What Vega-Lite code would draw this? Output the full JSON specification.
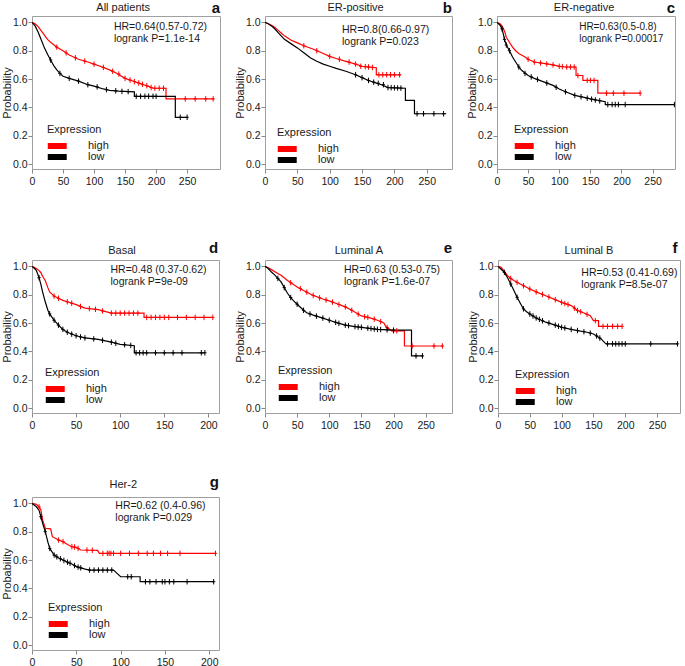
{
"$schema": "https://vega.github.io/schema/vega-lite/v6.json",
"background": "white",
"padding": {"left": 0, "top": 0, "right": 0, "bottom": 0},
"config": {
 "font": "Liberation Sans",
 "view": {"stroke": "#a0a0a0"},
 "axis": {"grid": false, "domain": false, "tickColor": "#888", "tickSize": 4, "labelFontSize": 10.5, "labelColor": "#1a1a1a", "titleFontSize": 11, "titleFontWeight": "normal", "titleColor": "#1a1a1a", "labelOverlap": false, "labelFlush": false, "tickCount": 12},
 "axisX": {"labelPadding": 3},
 "axisY": {"labelPadding": 1, "titlePadding": 0},
 "legend": {"padding": 0, "titleFontSize": 11, "titleFontWeight": "normal", "titleColor": "#1a1a1a", "labelFontSize": 11, "labelColor": "#1a1a1a", "symbolType": "M-1,-0.63H3V0.63H-1Z", "symbolSize": 90, "symbolStrokeWidth": 0, "symbolOpacity": 1, "rowPadding": -6, "labelOffset": 30, "titlePadding": 5.5}
},
"datasets": {
 "info": [
  {"panel":"a","name":"All patients","letter":"a","stats":"HR=0.64(0.57-0.72)\nlogrank P=1.1e-14"},
  {"panel":"b","name":"ER-positive","letter":"b","stats":"HR=0.8(0.66-0.97)\nlogrank P=0.023"},
  {"panel":"c","name":"ER-negative","letter":"c","stats":"HR=0.63(0.5-0.8)\nlogrank P=0.00017"},
  {"panel":"d","name":"Basal","letter":"d","stats":"HR=0.48 (0.37-0.62)\nlogrank P=9e-09"},
  {"panel":"e","name":"Luminal A","letter":"e","stats":"HR=0.63 (0.53-0.75)\nlogrank P=1.6e-07"},
  {"panel":"f","name":"Luminal B","letter":"f","stats":"HR=0.53 (0.41-0.69)\nlogrank P=8.5e-07"},
  {"panel":"g","name":"Her-2","letter":"g","stats":"HR=0.62 (0.4-0.96)\nlogrank P=0.029"}
 ],
 "curves": [
  {"panel":"a","grp":"high","t":0,"p":1},{"panel":"a","grp":"high","t":5,"p":0.99},{"panel":"a","grp":"high","t":10,"p":0.97},{"panel":"a","grp":"high","t":15,"p":0.94},{"panel":"a","grp":"high","t":20,"p":0.91},{"panel":"a","grp":"high","t":25,"p":0.88},{"panel":"a","grp":"high","t":30,"p":0.86},{"panel":"a","grp":"high","t":40,"p":0.825},{"panel":"a","grp":"high","t":50,"p":0.8},{"panel":"a","grp":"high","t":60,"p":0.77},{"panel":"a","grp":"high","t":75,"p":0.74},{"panel":"a","grp":"high","t":90,"p":0.72},{"panel":"a","grp":"high","t":100,"p":0.705},{"panel":"a","grp":"high","t":110,"p":0.69},{"panel":"a","grp":"high","t":125,"p":0.665},{"panel":"a","grp":"high","t":135,"p":0.645},{"panel":"a","grp":"high","t":150,"p":0.605},{"panel":"a","grp":"high","t":160,"p":0.59},{"panel":"a","grp":"high","t":170,"p":0.575},{"panel":"a","grp":"high","t":180,"p":0.56},{"panel":"a","grp":"high","t":190,"p":0.545},{"panel":"a","grp":"high","t":195,"p":0.535},{"panel":"a","grp":"high","t":216,"p":0.535},{"panel":"a","grp":"high","t":216,"p":0.46},{"panel":"a","grp":"high","t":293,"p":0.46},
  {"panel":"a","grp":"low","t":0,"p":1},{"panel":"a","grp":"low","t":5,"p":0.975},{"panel":"a","grp":"low","t":10,"p":0.93},{"panel":"a","grp":"low","t":15,"p":0.875},{"panel":"a","grp":"low","t":20,"p":0.82},{"panel":"a","grp":"low","t":25,"p":0.775},{"panel":"a","grp":"low","t":30,"p":0.735},{"panel":"a","grp":"low","t":35,"p":0.695},{"panel":"a","grp":"low","t":40,"p":0.665},{"panel":"a","grp":"low","t":45,"p":0.64},{"panel":"a","grp":"low","t":50,"p":0.62},{"panel":"a","grp":"low","t":60,"p":0.605},{"panel":"a","grp":"low","t":75,"p":0.585},{"panel":"a","grp":"low","t":90,"p":0.56},{"panel":"a","grp":"low","t":100,"p":0.55},{"panel":"a","grp":"low","t":115,"p":0.53},{"panel":"a","grp":"low","t":125,"p":0.52},{"panel":"a","grp":"low","t":140,"p":0.515},{"panel":"a","grp":"low","t":165,"p":0.51},{"panel":"a","grp":"low","t":165,"p":0.478},{"panel":"a","grp":"low","t":231,"p":0.478},{"panel":"a","grp":"low","t":231,"p":0.33},{"panel":"a","grp":"low","t":250,"p":0.33},
  {"panel":"b","grp":"high","t":0,"p":1},{"panel":"b","grp":"high","t":5,"p":0.99},{"panel":"b","grp":"high","t":10,"p":0.98},{"panel":"b","grp":"high","t":15,"p":0.965},{"panel":"b","grp":"high","t":20,"p":0.945},{"panel":"b","grp":"high","t":25,"p":0.925},{"panel":"b","grp":"high","t":30,"p":0.905},{"panel":"b","grp":"high","t":40,"p":0.875},{"panel":"b","grp":"high","t":50,"p":0.855},{"panel":"b","grp":"high","t":60,"p":0.835},{"panel":"b","grp":"high","t":75,"p":0.81},{"panel":"b","grp":"high","t":90,"p":0.78},{"panel":"b","grp":"high","t":100,"p":0.76},{"panel":"b","grp":"high","t":110,"p":0.745},{"panel":"b","grp":"high","t":125,"p":0.725},{"panel":"b","grp":"high","t":140,"p":0.705},{"panel":"b","grp":"high","t":150,"p":0.69},{"panel":"b","grp":"high","t":172,"p":0.68},{"panel":"b","grp":"high","t":172,"p":0.63},{"panel":"b","grp":"high","t":210,"p":0.63},
  {"panel":"b","grp":"low","t":0,"p":1},{"panel":"b","grp":"low","t":5,"p":0.99},{"panel":"b","grp":"low","t":10,"p":0.975},{"panel":"b","grp":"low","t":15,"p":0.955},{"panel":"b","grp":"low","t":20,"p":0.93},{"panel":"b","grp":"low","t":25,"p":0.905},{"panel":"b","grp":"low","t":30,"p":0.88},{"panel":"b","grp":"low","t":40,"p":0.85},{"panel":"b","grp":"low","t":50,"p":0.82},{"panel":"b","grp":"low","t":60,"p":0.785},{"panel":"b","grp":"low","t":70,"p":0.75},{"panel":"b","grp":"low","t":80,"p":0.725},{"panel":"b","grp":"low","t":90,"p":0.705},{"panel":"b","grp":"low","t":100,"p":0.69},{"panel":"b","grp":"low","t":110,"p":0.675},{"panel":"b","grp":"low","t":125,"p":0.655},{"panel":"b","grp":"low","t":140,"p":0.63},{"panel":"b","grp":"low","t":150,"p":0.61},{"panel":"b","grp":"low","t":160,"p":0.59},{"panel":"b","grp":"low","t":170,"p":0.575},{"panel":"b","grp":"low","t":180,"p":0.56},{"panel":"b","grp":"low","t":190,"p":0.54},{"panel":"b","grp":"low","t":217,"p":0.535},{"panel":"b","grp":"low","t":217,"p":0.45},{"panel":"b","grp":"low","t":231,"p":0.45},{"panel":"b","grp":"low","t":231,"p":0.355},{"panel":"b","grp":"low","t":280,"p":0.355},
  {"panel":"c","grp":"high","t":0,"p":1},{"panel":"c","grp":"high","t":5,"p":0.99},{"panel":"c","grp":"high","t":8,"p":0.975},{"panel":"c","grp":"high","t":12,"p":0.94},{"panel":"c","grp":"high","t":15,"p":0.895},{"panel":"c","grp":"high","t":20,"p":0.86},{"panel":"c","grp":"high","t":25,"p":0.825},{"panel":"c","grp":"high","t":30,"p":0.8},{"panel":"c","grp":"high","t":35,"p":0.78},{"panel":"c","grp":"high","t":45,"p":0.755},{"panel":"c","grp":"high","t":50,"p":0.74},{"panel":"c","grp":"high","t":60,"p":0.72},{"panel":"c","grp":"high","t":75,"p":0.71},{"panel":"c","grp":"high","t":90,"p":0.7},{"panel":"c","grp":"high","t":100,"p":0.69},{"panel":"c","grp":"high","t":110,"p":0.685},{"panel":"c","grp":"high","t":127,"p":0.685},{"panel":"c","grp":"high","t":127,"p":0.625},{"panel":"c","grp":"high","t":138,"p":0.625},{"panel":"c","grp":"high","t":138,"p":0.59},{"panel":"c","grp":"high","t":162,"p":0.59},{"panel":"c","grp":"high","t":162,"p":0.5},{"panel":"c","grp":"high","t":230,"p":0.5},
  {"panel":"c","grp":"low","t":0,"p":1},{"panel":"c","grp":"low","t":5,"p":0.98},{"panel":"c","grp":"low","t":8,"p":0.955},{"panel":"c","grp":"low","t":10,"p":0.92},{"panel":"c","grp":"low","t":12,"p":0.88},{"panel":"c","grp":"low","t":15,"p":0.84},{"panel":"c","grp":"low","t":20,"p":0.8},{"panel":"c","grp":"low","t":25,"p":0.755},{"panel":"c","grp":"low","t":30,"p":0.72},{"panel":"c","grp":"low","t":35,"p":0.685},{"panel":"c","grp":"low","t":40,"p":0.66},{"panel":"c","grp":"low","t":50,"p":0.625},{"panel":"c","grp":"low","t":60,"p":0.605},{"panel":"c","grp":"low","t":75,"p":0.58},{"panel":"c","grp":"low","t":90,"p":0.555},{"panel":"c","grp":"low","t":100,"p":0.53},{"panel":"c","grp":"low","t":110,"p":0.51},{"panel":"c","grp":"low","t":125,"p":0.485},{"panel":"c","grp":"low","t":140,"p":0.47},{"panel":"c","grp":"low","t":150,"p":0.46},{"panel":"c","grp":"low","t":174,"p":0.44},{"panel":"c","grp":"low","t":174,"p":0.42},{"panel":"c","grp":"low","t":285,"p":0.42},
  {"panel":"d","grp":"high","t":0,"p":1},{"panel":"d","grp":"high","t":5,"p":0.985},{"panel":"d","grp":"high","t":8,"p":0.97},{"panel":"d","grp":"high","t":10,"p":0.957},{"panel":"d","grp":"high","t":12,"p":0.93},{"panel":"d","grp":"high","t":15,"p":0.9},{"panel":"d","grp":"high","t":18,"p":0.85},{"panel":"d","grp":"high","t":20,"p":0.82},{"panel":"d","grp":"high","t":25,"p":0.79},{"panel":"d","grp":"high","t":30,"p":0.775},{"panel":"d","grp":"high","t":35,"p":0.76},{"panel":"d","grp":"high","t":40,"p":0.75},{"panel":"d","grp":"high","t":50,"p":0.73},{"panel":"d","grp":"high","t":60,"p":0.705},{"panel":"d","grp":"high","t":75,"p":0.695},{"panel":"d","grp":"high","t":90,"p":0.67},{"panel":"d","grp":"high","t":127,"p":0.67},{"panel":"d","grp":"high","t":127,"p":0.64},{"panel":"d","grp":"high","t":205,"p":0.64},
  {"panel":"d","grp":"low","t":0,"p":1},{"panel":"d","grp":"low","t":3,"p":0.985},{"panel":"d","grp":"low","t":5,"p":0.97},{"panel":"d","grp":"low","t":8,"p":0.92},{"panel":"d","grp":"low","t":10,"p":0.875},{"panel":"d","grp":"low","t":12,"p":0.82},{"panel":"d","grp":"low","t":15,"p":0.75},{"panel":"d","grp":"low","t":18,"p":0.69},{"panel":"d","grp":"low","t":20,"p":0.665},{"panel":"d","grp":"low","t":25,"p":0.62},{"panel":"d","grp":"low","t":30,"p":0.585},{"panel":"d","grp":"low","t":35,"p":0.555},{"panel":"d","grp":"low","t":40,"p":0.535},{"panel":"d","grp":"low","t":50,"p":0.51},{"panel":"d","grp":"low","t":60,"p":0.495},{"panel":"d","grp":"low","t":75,"p":0.485},{"panel":"d","grp":"low","t":90,"p":0.465},{"panel":"d","grp":"low","t":100,"p":0.45},{"panel":"d","grp":"low","t":116,"p":0.44},{"panel":"d","grp":"low","t":116,"p":0.39},{"panel":"d","grp":"low","t":196,"p":0.39},
  {"panel":"e","grp":"high","t":0,"p":1},{"panel":"e","grp":"high","t":5,"p":0.99},{"panel":"e","grp":"high","t":10,"p":0.977},{"panel":"e","grp":"high","t":20,"p":0.95},{"panel":"e","grp":"high","t":25,"p":0.937},{"panel":"e","grp":"high","t":35,"p":0.9},{"panel":"e","grp":"high","t":50,"p":0.855},{"panel":"e","grp":"high","t":60,"p":0.83},{"panel":"e","grp":"high","t":75,"p":0.795},{"panel":"e","grp":"high","t":90,"p":0.77},{"panel":"e","grp":"high","t":100,"p":0.756},{"panel":"e","grp":"high","t":110,"p":0.74},{"panel":"e","grp":"high","t":125,"p":0.714},{"panel":"e","grp":"high","t":135,"p":0.69},{"panel":"e","grp":"high","t":150,"p":0.65},{"panel":"e","grp":"high","t":165,"p":0.635},{"panel":"e","grp":"high","t":175,"p":0.62},{"panel":"e","grp":"high","t":185,"p":0.6},{"panel":"e","grp":"high","t":188,"p":0.575},{"panel":"e","grp":"high","t":197,"p":0.545},{"panel":"e","grp":"high","t":217,"p":0.545},{"panel":"e","grp":"high","t":217,"p":0.438},{"panel":"e","grp":"high","t":276,"p":0.438},
  {"panel":"e","grp":"low","t":0,"p":1},{"panel":"e","grp":"low","t":5,"p":0.985},{"panel":"e","grp":"low","t":10,"p":0.96},{"panel":"e","grp":"low","t":15,"p":0.94},{"panel":"e","grp":"low","t":20,"p":0.915},{"panel":"e","grp":"low","t":25,"p":0.89},{"panel":"e","grp":"low","t":30,"p":0.85},{"panel":"e","grp":"low","t":35,"p":0.81},{"panel":"e","grp":"low","t":40,"p":0.78},{"panel":"e","grp":"low","t":45,"p":0.755},{"panel":"e","grp":"low","t":50,"p":0.733},{"panel":"e","grp":"low","t":60,"p":0.69},{"panel":"e","grp":"low","t":65,"p":0.672},{"panel":"e","grp":"low","t":75,"p":0.656},{"panel":"e","grp":"low","t":90,"p":0.635},{"panel":"e","grp":"low","t":100,"p":0.62},{"panel":"e","grp":"low","t":110,"p":0.605},{"panel":"e","grp":"low","t":125,"p":0.585},{"panel":"e","grp":"low","t":140,"p":0.575},{"panel":"e","grp":"low","t":150,"p":0.57},{"panel":"e","grp":"low","t":175,"p":0.555},{"panel":"e","grp":"low","t":200,"p":0.55},{"panel":"e","grp":"low","t":228,"p":0.55},{"panel":"e","grp":"low","t":228,"p":0.368},{"panel":"e","grp":"low","t":245,"p":0.368},
  {"panel":"f","grp":"high","t":0,"p":1},{"panel":"f","grp":"high","t":5,"p":0.993},{"panel":"f","grp":"high","t":10,"p":0.965},{"panel":"f","grp":"high","t":15,"p":0.934},{"panel":"f","grp":"high","t":20,"p":0.915},{"panel":"f","grp":"high","t":25,"p":0.9},{"panel":"f","grp":"high","t":35,"p":0.875},{"panel":"f","grp":"high","t":50,"p":0.84},{"panel":"f","grp":"high","t":60,"p":0.82},{"panel":"f","grp":"high","t":75,"p":0.793},{"panel":"f","grp":"high","t":90,"p":0.765},{"panel":"f","grp":"high","t":100,"p":0.746},{"panel":"f","grp":"high","t":115,"p":0.723},{"panel":"f","grp":"high","t":125,"p":0.688},{"panel":"f","grp":"high","t":135,"p":0.671},{"panel":"f","grp":"high","t":145,"p":0.652},{"panel":"f","grp":"high","t":150,"p":0.617},{"panel":"f","grp":"high","t":158,"p":0.617},{"panel":"f","grp":"high","t":158,"p":0.577},{"panel":"f","grp":"high","t":195,"p":0.577},
  {"panel":"f","grp":"low","t":0,"p":1},{"panel":"f","grp":"low","t":5,"p":0.98},{"panel":"f","grp":"low","t":10,"p":0.958},{"panel":"f","grp":"low","t":15,"p":0.92},{"panel":"f","grp":"low","t":20,"p":0.876},{"panel":"f","grp":"low","t":25,"p":0.83},{"panel":"f","grp":"low","t":30,"p":0.782},{"panel":"f","grp":"low","t":35,"p":0.74},{"panel":"f","grp":"low","t":40,"p":0.7},{"panel":"f","grp":"low","t":45,"p":0.68},{"panel":"f","grp":"low","t":50,"p":0.664},{"panel":"f","grp":"low","t":60,"p":0.636},{"panel":"f","grp":"low","t":75,"p":0.606},{"panel":"f","grp":"low","t":90,"p":0.585},{"panel":"f","grp":"low","t":100,"p":0.57},{"panel":"f","grp":"low","t":115,"p":0.555},{"panel":"f","grp":"low","t":125,"p":0.547},{"panel":"f","grp":"low","t":140,"p":0.535},{"panel":"f","grp":"low","t":150,"p":0.523},{"panel":"f","grp":"low","t":158,"p":0.5},{"panel":"f","grp":"low","t":162,"p":0.488},{"panel":"f","grp":"low","t":168,"p":0.46},{"panel":"f","grp":"low","t":170,"p":0.453},{"panel":"f","grp":"low","t":282,"p":0.453},
  {"panel":"g","grp":"high","t":0,"p":1},{"panel":"g","grp":"high","t":5,"p":0.993},{"panel":"g","grp":"high","t":8,"p":0.975},{"panel":"g","grp":"high","t":10,"p":0.953},{"panel":"g","grp":"high","t":12,"p":0.882},{"panel":"g","grp":"high","t":15,"p":0.824},{"panel":"g","grp":"high","t":21,"p":0.82},{"panel":"g","grp":"high","t":23,"p":0.765},{"panel":"g","grp":"high","t":30,"p":0.741},{"panel":"g","grp":"high","t":35,"p":0.73},{"panel":"g","grp":"high","t":40,"p":0.71},{"panel":"g","grp":"high","t":45,"p":0.694},{"panel":"g","grp":"high","t":50,"p":0.69},{"panel":"g","grp":"high","t":55,"p":0.671},{"panel":"g","grp":"high","t":74,"p":0.668},{"panel":"g","grp":"high","t":76,"p":0.647},{"panel":"g","grp":"high","t":207,"p":0.647},
  {"panel":"g","grp":"low","t":0,"p":1},{"panel":"g","grp":"low","t":5,"p":0.976},{"panel":"g","grp":"low","t":8,"p":0.95},{"panel":"g","grp":"low","t":10,"p":0.906},{"panel":"g","grp":"low","t":12,"p":0.86},{"panel":"g","grp":"low","t":15,"p":0.8},{"panel":"g","grp":"low","t":18,"p":0.725},{"panel":"g","grp":"low","t":20,"p":0.682},{"panel":"g","grp":"low","t":25,"p":0.635},{"panel":"g","grp":"low","t":30,"p":0.615},{"panel":"g","grp":"low","t":35,"p":0.6},{"panel":"g","grp":"low","t":40,"p":0.585},{"panel":"g","grp":"low","t":45,"p":0.572},{"panel":"g","grp":"low","t":50,"p":0.553},{"panel":"g","grp":"low","t":60,"p":0.536},{"panel":"g","grp":"low","t":65,"p":0.529},{"panel":"g","grp":"low","t":92,"p":0.529},{"panel":"g","grp":"low","t":96,"p":0.506},{"panel":"g","grp":"low","t":100,"p":0.482},{"panel":"g","grp":"low","t":122,"p":0.482},{"panel":"g","grp":"low","t":122,"p":0.447},{"panel":"g","grp":"low","t":205,"p":0.447}
 ],
 "censors": [
  {"panel":"a","grp":"high","t":40,"p":0.825},{"panel":"a","grp":"high","t":55,"p":0.785},{"panel":"a","grp":"high","t":70,"p":0.75},{"panel":"a","grp":"high","t":85,"p":0.727},{"panel":"a","grp":"high","t":100,"p":0.705},{"panel":"a","grp":"high","t":115,"p":0.682},{"panel":"a","grp":"high","t":130,"p":0.655},{"panel":"a","grp":"high","t":140,"p":0.635},{"panel":"a","grp":"high","t":150,"p":0.605},{"panel":"a","grp":"high","t":158,"p":0.593},{"panel":"a","grp":"high","t":165,"p":0.582},{"panel":"a","grp":"high","t":172,"p":0.572},{"panel":"a","grp":"high","t":178,"p":0.563},{"panel":"a","grp":"high","t":185,"p":0.553},{"panel":"a","grp":"high","t":192,"p":0.54},{"panel":"a","grp":"high","t":198,"p":0.535},{"panel":"a","grp":"high","t":205,"p":0.535},{"panel":"a","grp":"high","t":212,"p":0.535},{"panel":"a","grp":"high","t":247,"p":0.46},{"panel":"a","grp":"high","t":263,"p":0.46},{"panel":"a","grp":"high","t":280,"p":0.46},{"panel":"a","grp":"high","t":292,"p":0.46},
  {"panel":"a","grp":"low","t":30,"p":0.735},{"panel":"a","grp":"low","t":45,"p":0.64},{"panel":"a","grp":"low","t":60,"p":0.605},{"panel":"a","grp":"low","t":75,"p":0.585},{"panel":"a","grp":"low","t":90,"p":0.56},{"panel":"a","grp":"low","t":105,"p":0.545},{"panel":"a","grp":"low","t":120,"p":0.525},{"panel":"a","grp":"low","t":135,"p":0.517},{"panel":"a","grp":"low","t":145,"p":0.513},{"panel":"a","grp":"low","t":155,"p":0.511},{"panel":"a","grp":"low","t":168,"p":0.478},{"panel":"a","grp":"low","t":175,"p":0.478},{"panel":"a","grp":"low","t":182,"p":0.478},{"panel":"a","grp":"low","t":188,"p":0.478},{"panel":"a","grp":"low","t":195,"p":0.478},{"panel":"a","grp":"low","t":200,"p":0.478},{"panel":"a","grp":"low","t":239,"p":0.33},{"panel":"a","grp":"low","t":250,"p":0.33},
  {"panel":"b","grp":"high","t":60,"p":0.835},{"panel":"b","grp":"high","t":80,"p":0.8},{"panel":"b","grp":"high","t":100,"p":0.76},{"panel":"b","grp":"high","t":115,"p":0.74},{"panel":"b","grp":"high","t":130,"p":0.72},{"panel":"b","grp":"high","t":140,"p":0.705},{"panel":"b","grp":"high","t":148,"p":0.69},{"panel":"b","grp":"high","t":155,"p":0.687},{"panel":"b","grp":"high","t":160,"p":0.685},{"panel":"b","grp":"high","t":166,"p":0.682},{"panel":"b","grp":"high","t":176,"p":0.63},{"panel":"b","grp":"high","t":182,"p":0.63},{"panel":"b","grp":"high","t":188,"p":0.63},{"panel":"b","grp":"high","t":194,"p":0.63},{"panel":"b","grp":"high","t":200,"p":0.63},{"panel":"b","grp":"high","t":208,"p":0.63},
  {"panel":"b","grp":"low","t":140,"p":0.63},{"panel":"b","grp":"low","t":150,"p":0.61},{"panel":"b","grp":"low","t":160,"p":0.59},{"panel":"b","grp":"low","t":168,"p":0.578},{"panel":"b","grp":"low","t":175,"p":0.57},{"panel":"b","grp":"low","t":183,"p":0.56},{"panel":"b","grp":"low","t":190,"p":0.54},{"panel":"b","grp":"low","t":195,"p":0.539},{"panel":"b","grp":"low","t":200,"p":0.538},{"panel":"b","grp":"low","t":205,"p":0.537},{"panel":"b","grp":"low","t":210,"p":0.536},{"panel":"b","grp":"low","t":235,"p":0.355},{"panel":"b","grp":"low","t":245,"p":0.355},{"panel":"b","grp":"low","t":261,"p":0.355},{"panel":"b","grp":"low","t":276,"p":0.355},
  {"panel":"c","grp":"high","t":50,"p":0.74},{"panel":"c","grp":"high","t":60,"p":0.72},{"panel":"c","grp":"high","t":70,"p":0.713},{"panel":"c","grp":"high","t":80,"p":0.707},{"panel":"c","grp":"high","t":90,"p":0.7},{"panel":"c","grp":"high","t":100,"p":0.69},{"panel":"c","grp":"high","t":105,"p":0.688},{"panel":"c","grp":"high","t":112,"p":0.685},{"panel":"c","grp":"high","t":118,"p":0.685},{"panel":"c","grp":"high","t":124,"p":0.685},{"panel":"c","grp":"high","t":130,"p":0.625},{"panel":"c","grp":"high","t":145,"p":0.59},{"panel":"c","grp":"high","t":150,"p":0.59},{"panel":"c","grp":"high","t":156,"p":0.59},{"panel":"c","grp":"high","t":176,"p":0.5},{"panel":"c","grp":"high","t":187,"p":0.5},{"panel":"c","grp":"high","t":204,"p":0.5},{"panel":"c","grp":"high","t":230,"p":0.5},
  {"panel":"c","grp":"low","t":8,"p":0.955},{"panel":"c","grp":"low","t":12,"p":0.88},{"panel":"c","grp":"low","t":15,"p":0.84},{"panel":"c","grp":"low","t":20,"p":0.8},{"panel":"c","grp":"low","t":35,"p":0.685},{"panel":"c","grp":"low","t":45,"p":0.64},{"panel":"c","grp":"low","t":55,"p":0.615},{"panel":"c","grp":"low","t":65,"p":0.597},{"panel":"c","grp":"low","t":80,"p":0.572},{"panel":"c","grp":"low","t":95,"p":0.542},{"panel":"c","grp":"low","t":110,"p":0.51},{"panel":"c","grp":"low","t":125,"p":0.485},{"panel":"c","grp":"low","t":135,"p":0.475},{"panel":"c","grp":"low","t":145,"p":0.465},{"panel":"c","grp":"low","t":152,"p":0.458},{"panel":"c","grp":"low","t":158,"p":0.452},{"panel":"c","grp":"low","t":165,"p":0.446},{"panel":"c","grp":"low","t":178,"p":0.42},{"panel":"c","grp":"low","t":185,"p":0.42},{"panel":"c","grp":"low","t":190,"p":0.42},{"panel":"c","grp":"low","t":195,"p":0.42},{"panel":"c","grp":"low","t":206,"p":0.42},{"panel":"c","grp":"low","t":285,"p":0.42},
  {"panel":"d","grp":"high","t":25,"p":0.79},{"panel":"d","grp":"high","t":30,"p":0.775},{"panel":"d","grp":"high","t":40,"p":0.75},{"panel":"d","grp":"high","t":45,"p":0.74},{"panel":"d","grp":"high","t":55,"p":0.717},{"panel":"d","grp":"high","t":65,"p":0.702},{"panel":"d","grp":"high","t":72,"p":0.697},{"panel":"d","grp":"high","t":80,"p":0.685},{"panel":"d","grp":"high","t":90,"p":0.67},{"panel":"d","grp":"high","t":95,"p":0.67},{"panel":"d","grp":"high","t":100,"p":0.67},{"panel":"d","grp":"high","t":105,"p":0.67},{"panel":"d","grp":"high","t":110,"p":0.67},{"panel":"d","grp":"high","t":115,"p":0.67},{"panel":"d","grp":"high","t":120,"p":0.67},{"panel":"d","grp":"high","t":130,"p":0.64},{"panel":"d","grp":"high","t":135,"p":0.64},{"panel":"d","grp":"high","t":140,"p":0.64},{"panel":"d","grp":"high","t":145,"p":0.64},{"panel":"d","grp":"high","t":150,"p":0.64},{"panel":"d","grp":"high","t":155,"p":0.64},{"panel":"d","grp":"high","t":165,"p":0.64},{"panel":"d","grp":"high","t":175,"p":0.64},{"panel":"d","grp":"high","t":185,"p":0.64},{"panel":"d","grp":"high","t":195,"p":0.64},{"panel":"d","grp":"high","t":205,"p":0.64},
  {"panel":"d","grp":"low","t":8,"p":0.92},{"panel":"d","grp":"low","t":20,"p":0.665},{"panel":"d","grp":"low","t":25,"p":0.62},{"panel":"d","grp":"low","t":30,"p":0.585},{"panel":"d","grp":"low","t":35,"p":0.555},{"panel":"d","grp":"low","t":40,"p":0.535},{"panel":"d","grp":"low","t":45,"p":0.522},{"panel":"d","grp":"low","t":50,"p":0.51},{"panel":"d","grp":"low","t":55,"p":0.502},{"panel":"d","grp":"low","t":60,"p":0.495},{"panel":"d","grp":"low","t":70,"p":0.488},{"panel":"d","grp":"low","t":80,"p":0.478},{"panel":"d","grp":"low","t":90,"p":0.465},{"panel":"d","grp":"low","t":95,"p":0.457},{"panel":"d","grp":"low","t":105,"p":0.447},{"panel":"d","grp":"low","t":112,"p":0.442},{"panel":"d","grp":"low","t":118,"p":0.39},{"panel":"d","grp":"low","t":122,"p":0.39},{"panel":"d","grp":"low","t":126,"p":0.39},{"panel":"d","grp":"low","t":130,"p":0.39},{"panel":"d","grp":"low","t":140,"p":0.39},{"panel":"d","grp":"low","t":150,"p":0.39},{"panel":"d","grp":"low","t":160,"p":0.39},{"panel":"d","grp":"low","t":170,"p":0.39},{"panel":"d","grp":"low","t":192,"p":0.39},{"panel":"d","grp":"low","t":196,"p":0.39},
  {"panel":"e","grp":"high","t":40,"p":0.885},{"panel":"e","grp":"high","t":55,"p":0.843},{"panel":"e","grp":"high","t":65,"p":0.818},{"panel":"e","grp":"high","t":75,"p":0.795},{"panel":"e","grp":"high","t":85,"p":0.778},{"panel":"e","grp":"high","t":95,"p":0.763},{"panel":"e","grp":"high","t":105,"p":0.748},{"panel":"e","grp":"high","t":115,"p":0.731},{"panel":"e","grp":"high","t":125,"p":0.714},{"panel":"e","grp":"high","t":135,"p":0.69},{"panel":"e","grp":"high","t":145,"p":0.663},{"panel":"e","grp":"high","t":155,"p":0.645},{"panel":"e","grp":"high","t":160,"p":0.64},{"panel":"e","grp":"high","t":170,"p":0.628},{"panel":"e","grp":"high","t":180,"p":0.61},{"panel":"e","grp":"high","t":190,"p":0.568},{"panel":"e","grp":"high","t":200,"p":0.545},{"panel":"e","grp":"high","t":205,"p":0.545},{"panel":"e","grp":"high","t":229,"p":0.438},{"panel":"e","grp":"high","t":263,"p":0.438},{"panel":"e","grp":"high","t":276,"p":0.438},
  {"panel":"e","grp":"low","t":20,"p":0.915},{"panel":"e","grp":"low","t":30,"p":0.85},{"panel":"e","grp":"low","t":40,"p":0.78},{"panel":"e","grp":"low","t":50,"p":0.733},{"panel":"e","grp":"low","t":60,"p":0.69},{"panel":"e","grp":"low","t":70,"p":0.664},{"panel":"e","grp":"low","t":80,"p":0.649},{"panel":"e","grp":"low","t":90,"p":0.635},{"panel":"e","grp":"low","t":100,"p":0.62},{"panel":"e","grp":"low","t":110,"p":0.605},{"panel":"e","grp":"low","t":115,"p":0.598},{"panel":"e","grp":"low","t":125,"p":0.585},{"panel":"e","grp":"low","t":130,"p":0.582},{"panel":"e","grp":"low","t":140,"p":0.575},{"panel":"e","grp":"low","t":145,"p":0.572},{"panel":"e","grp":"low","t":150,"p":0.57},{"panel":"e","grp":"low","t":160,"p":0.564},{"panel":"e","grp":"low","t":165,"p":0.561},{"panel":"e","grp":"low","t":170,"p":0.558},{"panel":"e","grp":"low","t":175,"p":0.555},{"panel":"e","grp":"low","t":180,"p":0.554},{"panel":"e","grp":"low","t":190,"p":0.552},{"panel":"e","grp":"low","t":200,"p":0.55},{"panel":"e","grp":"low","t":235,"p":0.368},{"panel":"e","grp":"low","t":245,"p":0.368},
  {"panel":"f","grp":"high","t":20,"p":0.915},{"panel":"f","grp":"high","t":30,"p":0.887},{"panel":"f","grp":"high","t":40,"p":0.863},{"panel":"f","grp":"high","t":50,"p":0.84},{"panel":"f","grp":"high","t":60,"p":0.82},{"panel":"f","grp":"high","t":70,"p":0.802},{"panel":"f","grp":"high","t":80,"p":0.784},{"panel":"f","grp":"high","t":90,"p":0.765},{"panel":"f","grp":"high","t":100,"p":0.746},{"panel":"f","grp":"high","t":105,"p":0.738},{"panel":"f","grp":"high","t":110,"p":0.731},{"panel":"f","grp":"high","t":120,"p":0.705},{"panel":"f","grp":"high","t":125,"p":0.688},{"panel":"f","grp":"high","t":130,"p":0.68},{"panel":"f","grp":"high","t":140,"p":0.661},{"panel":"f","grp":"high","t":153,"p":0.617},{"panel":"f","grp":"high","t":165,"p":0.577},{"panel":"f","grp":"high","t":172,"p":0.577},{"panel":"f","grp":"high","t":180,"p":0.577},{"panel":"f","grp":"high","t":188,"p":0.577},{"panel":"f","grp":"high","t":195,"p":0.577},
  {"panel":"f","grp":"low","t":10,"p":0.958},{"panel":"f","grp":"low","t":20,"p":0.876},{"panel":"f","grp":"low","t":30,"p":0.782},{"panel":"f","grp":"low","t":40,"p":0.7},{"panel":"f","grp":"low","t":50,"p":0.664},{"panel":"f","grp":"low","t":55,"p":0.65},{"panel":"f","grp":"low","t":60,"p":0.636},{"panel":"f","grp":"low","t":65,"p":0.626},{"panel":"f","grp":"low","t":70,"p":0.616},{"panel":"f","grp":"low","t":80,"p":0.6},{"panel":"f","grp":"low","t":90,"p":0.585},{"panel":"f","grp":"low","t":95,"p":0.577},{"panel":"f","grp":"low","t":100,"p":0.57},{"panel":"f","grp":"low","t":105,"p":0.565},{"panel":"f","grp":"low","t":115,"p":0.555},{"panel":"f","grp":"low","t":125,"p":0.547},{"panel":"f","grp":"low","t":135,"p":0.539},{"panel":"f","grp":"low","t":145,"p":0.529},{"panel":"f","grp":"low","t":155,"p":0.509},{"panel":"f","grp":"low","t":160,"p":0.494},{"panel":"f","grp":"low","t":172,"p":0.453},{"panel":"f","grp":"low","t":180,"p":0.453},{"panel":"f","grp":"low","t":185,"p":0.453},{"panel":"f","grp":"low","t":190,"p":0.453},{"panel":"f","grp":"low","t":195,"p":0.453},{"panel":"f","grp":"low","t":200,"p":0.453},{"panel":"f","grp":"low","t":240,"p":0.453},{"panel":"f","grp":"low","t":282,"p":0.453},
  {"panel":"g","grp":"high","t":8,"p":0.975},{"panel":"g","grp":"high","t":30,"p":0.741},{"panel":"g","grp":"high","t":35,"p":0.73},{"panel":"g","grp":"high","t":45,"p":0.694},{"panel":"g","grp":"high","t":48,"p":0.692},{"panel":"g","grp":"high","t":52,"p":0.682},{"panel":"g","grp":"high","t":62,"p":0.67},{"panel":"g","grp":"high","t":68,"p":0.669},{"panel":"g","grp":"high","t":80,"p":0.647},{"panel":"g","grp":"high","t":85,"p":0.647},{"panel":"g","grp":"high","t":87,"p":0.647},{"panel":"g","grp":"high","t":89,"p":0.647},{"panel":"g","grp":"high","t":92,"p":0.647},{"panel":"g","grp":"high","t":100,"p":0.647},{"panel":"g","grp":"high","t":110,"p":0.647},{"panel":"g","grp":"high","t":120,"p":0.647},{"panel":"g","grp":"high","t":130,"p":0.647},{"panel":"g","grp":"high","t":137,"p":0.647},{"panel":"g","grp":"high","t":145,"p":0.647},{"panel":"g","grp":"high","t":153,"p":0.647},{"panel":"g","grp":"high","t":167,"p":0.647},{"panel":"g","grp":"high","t":207,"p":0.647},
  {"panel":"g","grp":"low","t":10,"p":0.906},{"panel":"g","grp":"low","t":15,"p":0.8},{"panel":"g","grp":"low","t":20,"p":0.682},{"panel":"g","grp":"low","t":25,"p":0.635},{"panel":"g","grp":"low","t":28,"p":0.623},{"panel":"g","grp":"low","t":32,"p":0.609},{"panel":"g","grp":"low","t":36,"p":0.597},{"panel":"g","grp":"low","t":40,"p":0.585},{"panel":"g","grp":"low","t":43,"p":0.577},{"panel":"g","grp":"low","t":48,"p":0.561},{"panel":"g","grp":"low","t":52,"p":0.55},{"panel":"g","grp":"low","t":55,"p":0.545},{"panel":"g","grp":"low","t":65,"p":0.529},{"panel":"g","grp":"low","t":70,"p":0.529},{"panel":"g","grp":"low","t":75,"p":0.529},{"panel":"g","grp":"low","t":80,"p":0.529},{"panel":"g","grp":"low","t":85,"p":0.529},{"panel":"g","grp":"low","t":90,"p":0.529},{"panel":"g","grp":"low","t":108,"p":0.482},{"panel":"g","grp":"low","t":112,"p":0.482},{"panel":"g","grp":"low","t":128,"p":0.447},{"panel":"g","grp":"low","t":133,"p":0.447},{"panel":"g","grp":"low","t":140,"p":0.447},{"panel":"g","grp":"low","t":147,"p":0.447},{"panel":"g","grp":"low","t":150,"p":0.447},{"panel":"g","grp":"low","t":155,"p":0.447},{"panel":"g","grp":"low","t":160,"p":0.447},{"panel":"g","grp":"low","t":175,"p":0.447},{"panel":"g","grp":"low","t":205,"p":0.447}
 ]
},
"resolve": {"scale": {"x": "independent", "y": "independent"}, "legend": {"color": "independent"}},
"spacing": 53,
"vconcat": [
 {
  "resolve": {"scale": {"x": "independent", "y": "independent"}, "legend": {"color": "independent"}},
  "spacing": 12,
  "hconcat": [
   {"width": 188, "height": 153,
    "layer": [
     {"data": {"name": "curves"}, "transform": [{"filter": "datum.panel == 'a' && datum.t < 0"}], "mark": {"type": "point", "filled": true, "opacity": 1, "shape": "M-1,-0.63H3V0.63H-1Z"},
      "encoding": {"x": {"field": "t", "type": "quantitative", "scale": {"domain": [0, 303], "nice": false, "zero": false}, "axis": {"values": [0, 50, 100, 150, 200, 250], "title": null, "labelOverlap": false, "tickCount": 12}},
       "y": {"field": "p", "type": "quantitative", "scale": {"domain": [-0.035, 1.045], "nice": false, "zero": false}, "axis": {"values": [0, 0.2, 0.4, 0.6, 0.8, 1], "format": ".1f", "title": "Probability", "labelOverlap": false, "tickCount": 12}},
       "color": {"field": "grp", "type": "nominal", "scale": {"domain": ["high", "low"], "range": ["#ff0000", "#000000"]}, "legend": {"title": "Expression", "orient": "none", "legendX": 15, "legendY": 108}}}},
     {"data": {"name": "curves"}, "transform": [{"filter": "datum.panel == 'a'"}], "mark": {"type": "line", "clip": true, "strokeWidth": 1.2},
      "encoding": {"x": {"field": "t", "type": "quantitative"}, "y": {"field": "p", "type": "quantitative"}, "color": {"field": "grp", "type": "nominal", "legend": null},
       "order": [{"field": "t", "type": "quantitative"}, {"field": "p", "type": "quantitative", "sort": "descending"}]}},
     {"data": {"name": "censors"}, "transform": [{"filter": "datum.panel == 'a'"}], "mark": {"type": "point", "shape": "M0,-1V1M-0.6,0H0.6", "size": 30, "filled": false, "strokeWidth": 1, "opacity": 1, "clip": true},
      "encoding": {"x": {"field": "t", "type": "quantitative"}, "y": {"field": "p", "type": "quantitative"}, "color": {"field": "grp", "type": "nominal", "legend": null}}},
     {"data": {"name": "info"}, "transform": [{"filter": "datum.panel == 'a'"}], "mark": {"type": "text", "align": "left", "baseline": "top", "fontSize": 10.5, "lineBreak": "\n", "lineHeight": 12.5, "color": "#1a1a1a"},
      "encoding": {"x": {"datum": 132}, "y": {"datum": 1.005}, "text": {"field": "stats"}}},
     {"data": {"name": "info"}, "transform": [{"filter": "datum.panel == 'a'"}], "mark": {"type": "text", "align": "center", "baseline": "middle", "fontSize": 11, "color": "#1a1a1a"},
      "encoding": {"x": {"datum": 147}, "y": {"datum": 1.1}, "text": {"field": "name"}}},
     {"data": {"name": "info"}, "transform": [{"filter": "datum.panel == 'a'"}], "mark": {"type": "text", "align": "right", "baseline": "middle", "fontSize": 15, "fontWeight": "bold", "color": "#111"},
      "encoding": {"x": {"datum": 303}, "y": {"datum": 1.1}, "text": {"field": "letter"}}}
    ]},
   {"width": 187, "height": 153,
    "layer": [
     {"data": {"name": "curves"}, "transform": [{"filter": "datum.panel == 'b' && datum.t < 0"}], "mark": {"type": "point", "filled": true, "opacity": 1, "shape": "M-1,-0.63H3V0.63H-1Z"},
      "encoding": {"x": {"field": "t", "type": "quantitative", "scale": {"domain": [0, 289], "nice": false, "zero": false}, "axis": {"values": [0, 50, 100, 150, 200, 250], "title": null, "labelOverlap": false, "tickCount": 12}},
       "y": {"field": "p", "type": "quantitative", "scale": {"domain": [-0.035, 1.045], "nice": false, "zero": false}, "axis": {"values": [0, 0.2, 0.4, 0.6, 0.8, 1], "format": ".1f", "title": "Probability", "labelOverlap": false, "tickCount": 12}},
       "color": {"field": "grp", "type": "nominal", "scale": {"domain": ["high", "low"], "range": ["#ff0000", "#000000"]}, "legend": {"title": "Expression", "orient": "none", "legendX": 12, "legendY": 111}}}},
     {"data": {"name": "curves"}, "transform": [{"filter": "datum.panel == 'b'"}], "mark": {"type": "line", "clip": true, "strokeWidth": 1.2},
      "encoding": {"x": {"field": "t", "type": "quantitative"}, "y": {"field": "p", "type": "quantitative"}, "color": {"field": "grp", "type": "nominal", "legend": null},
       "order": [{"field": "t", "type": "quantitative"}, {"field": "p", "type": "quantitative", "sort": "descending"}]}},
     {"data": {"name": "censors"}, "transform": [{"filter": "datum.panel == 'b'"}], "mark": {"type": "point", "shape": "M0,-1V1M-0.6,0H0.6", "size": 30, "filled": false, "strokeWidth": 1, "opacity": 1, "clip": true},
      "encoding": {"x": {"field": "t", "type": "quantitative"}, "y": {"field": "p", "type": "quantitative"}, "color": {"field": "grp", "type": "nominal", "legend": null}}},
     {"data": {"name": "info"}, "transform": [{"filter": "datum.panel == 'b'"}], "mark": {"type": "text", "align": "left", "baseline": "top", "fontSize": 10.5, "lineBreak": "\n", "lineHeight": 12.5, "color": "#1a1a1a"},
      "encoding": {"x": {"datum": 119}, "y": {"datum": 0.984}, "text": {"field": "stats"}}},
     {"data": {"name": "info"}, "transform": [{"filter": "datum.panel == 'b'"}], "mark": {"type": "text", "align": "center", "baseline": "middle", "fontSize": 11, "color": "#1a1a1a"},
      "encoding": {"x": {"datum": 140}, "y": {"datum": 1.1}, "text": {"field": "name"}}},
     {"data": {"name": "info"}, "transform": [{"filter": "datum.panel == 'b'"}], "mark": {"type": "text", "align": "right", "baseline": "middle", "fontSize": 15, "fontWeight": "bold", "color": "#111"},
      "encoding": {"x": {"datum": 289}, "y": {"datum": 1.1}, "text": {"field": "letter"}}}
    ]},
   {"width": 178, "height": 153,
    "layer": [
     {"data": {"name": "curves"}, "transform": [{"filter": "datum.panel == 'c' && datum.t < 0"}], "mark": {"type": "point", "filled": true, "opacity": 1, "shape": "M-1,-0.63H3V0.63H-1Z"},
      "encoding": {"x": {"field": "t", "type": "quantitative", "scale": {"domain": [0, 286], "nice": false, "zero": false}, "axis": {"values": [0, 50, 100, 150, 200, 250], "title": null, "labelOverlap": false, "tickCount": 12}},
       "y": {"field": "p", "type": "quantitative", "scale": {"domain": [-0.035, 1.045], "nice": false, "zero": false}, "axis": {"values": [0, 0.2, 0.4, 0.6, 0.8, 1], "format": ".1f", "title": "Probability", "labelOverlap": false, "tickCount": 12}},
       "color": {"field": "grp", "type": "nominal", "scale": {"domain": ["high", "low"], "range": ["#ff0000", "#000000"]}, "legend": {"title": "Expression", "orient": "none", "legendX": 17, "legendY": 108}}}},
     {"data": {"name": "curves"}, "transform": [{"filter": "datum.panel == 'c'"}], "mark": {"type": "line", "clip": true, "strokeWidth": 1.2},
      "encoding": {"x": {"field": "t", "type": "quantitative"}, "y": {"field": "p", "type": "quantitative"}, "color": {"field": "grp", "type": "nominal", "legend": null},
       "order": [{"field": "t", "type": "quantitative"}, {"field": "p", "type": "quantitative", "sort": "descending"}]}},
     {"data": {"name": "censors"}, "transform": [{"filter": "datum.panel == 'c'"}], "mark": {"type": "point", "shape": "M0,-1V1M-0.6,0H0.6", "size": 30, "filled": false, "strokeWidth": 1, "opacity": 1, "clip": true},
      "encoding": {"x": {"field": "t", "type": "quantitative"}, "y": {"field": "p", "type": "quantitative"}, "color": {"field": "grp", "type": "nominal", "legend": null}}},
     {"data": {"name": "info"}, "transform": [{"filter": "datum.panel == 'c'"}], "mark": {"type": "text", "align": "left", "baseline": "top", "fontSize": 10, "lineBreak": "\n", "lineHeight": 12.5, "color": "#1a1a1a"},
      "encoding": {"x": {"datum": 132}, "y": {"datum": 1.005}, "text": {"field": "stats"}}},
     {"data": {"name": "info"}, "transform": [{"filter": "datum.panel == 'c'"}], "mark": {"type": "text", "align": "center", "baseline": "middle", "fontSize": 11, "color": "#1a1a1a"},
      "encoding": {"x": {"datum": 140}, "y": {"datum": 1.1}, "text": {"field": "name"}}},
     {"data": {"name": "info"}, "transform": [{"filter": "datum.panel == 'c'"}], "mark": {"type": "text", "align": "right", "baseline": "middle", "fontSize": 15, "fontWeight": "bold", "color": "#111"},
      "encoding": {"x": {"datum": 286}, "y": {"datum": 1.1}, "text": {"field": "letter"}}}
    ]}
  ]
 },
 {
  "resolve": {"scale": {"x": "independent", "y": "independent"}, "legend": {"color": "independent"}},
  "spacing": 43,
  "vconcat": [
   {
    "resolve": {"scale": {"x": "independent", "y": "independent"}, "legend": {"color": "independent"}},
    "spacing": 13,
    "hconcat": [
     {"width": 187, "height": 153,
      "layer": [
       {"data": {"name": "curves"}, "transform": [{"filter": "datum.panel == 'd' && datum.t < 0"}], "mark": {"type": "point", "filled": true, "opacity": 1, "shape": "M-1,-0.63H3V0.63H-1Z"},
        "encoding": {"x": {"field": "t", "type": "quantitative", "scale": {"domain": [0, 212], "nice": false, "zero": false}, "axis": {"values": [0, 50, 100, 150, 200], "title": null, "labelOverlap": false, "tickCount": 12}},
         "y": {"field": "p", "type": "quantitative", "scale": {"domain": [-0.035, 1.045], "nice": false, "zero": false}, "axis": {"values": [0, 0.2, 0.4, 0.6, 0.8, 1], "format": ".1f", "title": "Probability", "labelOverlap": false, "tickCount": 12}},
         "color": {"field": "grp", "type": "nominal", "scale": {"domain": ["high", "low"], "range": ["#ff0000", "#000000"]}, "legend": {"title": "Expression", "orient": "none", "legendX": 13, "legendY": 107}}}},
       {"data": {"name": "curves"}, "transform": [{"filter": "datum.panel == 'd'"}], "mark": {"type": "line", "clip": true, "strokeWidth": 1.2},
        "encoding": {"x": {"field": "t", "type": "quantitative"}, "y": {"field": "p", "type": "quantitative"}, "color": {"field": "grp", "type": "nominal", "legend": null},
         "order": [{"field": "t", "type": "quantitative"}, {"field": "p", "type": "quantitative", "sort": "descending"}]}},
       {"data": {"name": "censors"}, "transform": [{"filter": "datum.panel == 'd'"}], "mark": {"type": "point", "shape": "M0,-1V1M-0.6,0H0.6", "size": 30, "filled": false, "strokeWidth": 1, "opacity": 1, "clip": true},
        "encoding": {"x": {"field": "t", "type": "quantitative"}, "y": {"field": "p", "type": "quantitative"}, "color": {"field": "grp", "type": "nominal", "legend": null}}},
       {"data": {"name": "info"}, "transform": [{"filter": "datum.panel == 'd'"}], "mark": {"type": "text", "align": "left", "baseline": "top", "fontSize": 10.5, "lineBreak": "\n", "lineHeight": 12.5, "color": "#1a1a1a"},
        "encoding": {"x": {"datum": 89}, "y": {"datum": 1.012}, "text": {"field": "stats"}}},
       {"data": {"name": "info"}, "transform": [{"filter": "datum.panel == 'd'"}], "mark": {"type": "text", "align": "center", "baseline": "middle", "fontSize": 11, "color": "#1a1a1a"},
        "encoding": {"x": {"datum": 102}, "y": {"datum": 1.108}, "text": {"field": "name"}}},
       {"data": {"name": "info"}, "transform": [{"filter": "datum.panel == 'd'"}], "mark": {"type": "text", "align": "right", "baseline": "middle", "fontSize": 15, "fontWeight": "bold", "color": "#111"},
        "encoding": {"x": {"datum": 211}, "y": {"datum": 1.13}, "text": {"field": "letter"}}}
      ]},
     {"width": 187, "height": 153,
      "layer": [
       {"data": {"name": "curves"}, "transform": [{"filter": "datum.panel == 'e' && datum.t < 0"}], "mark": {"type": "point", "filled": true, "opacity": 1, "shape": "M-1,-0.63H3V0.63H-1Z"},
        "encoding": {"x": {"field": "t", "type": "quantitative", "scale": {"domain": [0, 291], "nice": false, "zero": false}, "axis": {"values": [0, 50, 100, 150, 200, 250], "title": null, "labelOverlap": false, "tickCount": 12}},
         "y": {"field": "p", "type": "quantitative", "scale": {"domain": [-0.035, 1.045], "nice": false, "zero": false}, "axis": {"values": [0, 0.2, 0.4, 0.6, 0.8, 1], "format": ".1f", "title": "Probability", "labelOverlap": false, "tickCount": 12}},
         "color": {"field": "grp", "type": "nominal", "scale": {"domain": ["high", "low"], "range": ["#ff0000", "#000000"]}, "legend": {"title": "Expression", "orient": "none", "legendX": 13, "legendY": 105}}}},
       {"data": {"name": "curves"}, "transform": [{"filter": "datum.panel == 'e'"}], "mark": {"type": "line", "clip": true, "strokeWidth": 1.2},
        "encoding": {"x": {"field": "t", "type": "quantitative"}, "y": {"field": "p", "type": "quantitative"}, "color": {"field": "grp", "type": "nominal", "legend": null},
         "order": [{"field": "t", "type": "quantitative"}, {"field": "p", "type": "quantitative", "sort": "descending"}]}},
       {"data": {"name": "censors"}, "transform": [{"filter": "datum.panel == 'e'"}], "mark": {"type": "point", "shape": "M0,-1V1M-0.6,0H0.6", "size": 30, "filled": false, "strokeWidth": 1, "opacity": 1, "clip": true},
        "encoding": {"x": {"field": "t", "type": "quantitative"}, "y": {"field": "p", "type": "quantitative"}, "color": {"field": "grp", "type": "nominal", "legend": null}}},
       {"data": {"name": "info"}, "transform": [{"filter": "datum.panel == 'e'"}], "mark": {"type": "text", "align": "left", "baseline": "top", "fontSize": 10.5, "lineBreak": "\n", "lineHeight": 12.5, "color": "#1a1a1a"},
        "encoding": {"x": {"datum": 123}, "y": {"datum": 1.013}, "text": {"field": "stats"}}},
       {"data": {"name": "info"}, "transform": [{"filter": "datum.panel == 'e'"}], "mark": {"type": "text", "align": "center", "baseline": "middle", "fontSize": 11, "color": "#1a1a1a"},
        "encoding": {"x": {"datum": 146}, "y": {"datum": 1.108}, "text": {"field": "name"}}},
       {"data": {"name": "info"}, "transform": [{"filter": "datum.panel == 'e'"}], "mark": {"type": "text", "align": "right", "baseline": "middle", "fontSize": 15, "fontWeight": "bold", "color": "#111"},
        "encoding": {"x": {"datum": 291}, "y": {"datum": 1.13}, "text": {"field": "letter"}}}
      ]},
     {"width": 182, "height": 153,
      "layer": [
       {"data": {"name": "curves"}, "transform": [{"filter": "datum.panel == 'f' && datum.t < 0"}], "mark": {"type": "point", "filled": true, "opacity": 1, "shape": "M-1,-0.63H3V0.63H-1Z"},
        "encoding": {"x": {"field": "t", "type": "quantitative", "scale": {"domain": [0, 286], "nice": false, "zero": false}, "axis": {"values": [0, 50, 100, 150, 200, 250], "title": null, "labelOverlap": false, "tickCount": 12}},
         "y": {"field": "p", "type": "quantitative", "scale": {"domain": [-0.035, 1.045], "nice": false, "zero": false}, "axis": {"values": [0, 0.2, 0.4, 0.6, 0.8, 1], "format": ".1f", "title": "Probability", "labelOverlap": false, "tickCount": 12}},
         "color": {"field": "grp", "type": "nominal", "scale": {"domain": ["high", "low"], "range": ["#ff0000", "#000000"]}, "legend": {"title": "Expression", "orient": "none", "legendX": 17, "legendY": 109}}}},
       {"data": {"name": "curves"}, "transform": [{"filter": "datum.panel == 'f'"}], "mark": {"type": "line", "clip": true, "strokeWidth": 1.2},
        "encoding": {"x": {"field": "t", "type": "quantitative"}, "y": {"field": "p", "type": "quantitative"}, "color": {"field": "grp", "type": "nominal", "legend": null},
         "order": [{"field": "t", "type": "quantitative"}, {"field": "p", "type": "quantitative", "sort": "descending"}]}},
       {"data": {"name": "censors"}, "transform": [{"filter": "datum.panel == 'f'"}], "mark": {"type": "point", "shape": "M0,-1V1M-0.6,0H0.6", "size": 30, "filled": false, "strokeWidth": 1, "opacity": 1, "clip": true},
        "encoding": {"x": {"field": "t", "type": "quantitative"}, "y": {"field": "p", "type": "quantitative"}, "color": {"field": "grp", "type": "nominal", "legend": null}}},
       {"data": {"name": "info"}, "transform": [{"filter": "datum.panel == 'f'"}], "mark": {"type": "text", "align": "left", "baseline": "top", "fontSize": 10.5, "lineBreak": "\n", "lineHeight": 12.5, "color": "#1a1a1a"},
        "encoding": {"x": {"datum": 131}, "y": {"datum": 0.99}, "text": {"field": "stats"}}},
       {"data": {"name": "info"}, "transform": [{"filter": "datum.panel == 'f'"}], "mark": {"type": "text", "align": "center", "baseline": "middle", "fontSize": 11, "color": "#1a1a1a"},
        "encoding": {"x": {"datum": 143}, "y": {"datum": 1.108}, "text": {"field": "name"}}},
       {"data": {"name": "info"}, "transform": [{"filter": "datum.panel == 'f'"}], "mark": {"type": "text", "align": "right", "baseline": "middle", "fontSize": 15, "fontWeight": "bold", "color": "#111"},
        "encoding": {"x": {"datum": 282}, "y": {"datum": 1.13}, "text": {"field": "letter"}}}
      ]}
    ]
   },
   {"width": 187, "height": 153,
    "layer": [
     {"data": {"name": "curves"}, "transform": [{"filter": "datum.panel == 'g' && datum.t < 0"}], "mark": {"type": "point", "filled": true, "opacity": 1, "shape": "M-1,-0.63H3V0.63H-1Z"},
      "encoding": {"x": {"field": "t", "type": "quantitative", "scale": {"domain": [0, 211], "nice": false, "zero": false}, "axis": {"values": [0, 50, 100, 150, 200], "title": null, "labelOverlap": false, "tickCount": 12}},
       "y": {"field": "p", "type": "quantitative", "scale": {"domain": [-0.035, 1.045], "nice": false, "zero": false}, "axis": {"values": [0, 0.2, 0.4, 0.6, 0.8, 1], "format": ".1f", "title": "Probability", "labelOverlap": false, "tickCount": 12}},
       "color": {"field": "grp", "type": "nominal", "scale": {"domain": ["high", "low"], "range": ["#ff0000", "#000000"]}, "legend": {"title": "Expression", "orient": "none", "legendX": 16, "legendY": 105}}}},
     {"data": {"name": "curves"}, "transform": [{"filter": "datum.panel == 'g'"}], "mark": {"type": "line", "clip": true, "strokeWidth": 1.2},
      "encoding": {"x": {"field": "t", "type": "quantitative"}, "y": {"field": "p", "type": "quantitative"}, "color": {"field": "grp", "type": "nominal", "legend": null},
       "order": [{"field": "t", "type": "quantitative"}, {"field": "p", "type": "quantitative", "sort": "descending"}]}},
     {"data": {"name": "censors"}, "transform": [{"filter": "datum.panel == 'g'"}], "mark": {"type": "point", "shape": "M0,-1V1M-0.6,0H0.6", "size": 30, "filled": false, "strokeWidth": 1, "opacity": 1, "clip": true},
      "encoding": {"x": {"field": "t", "type": "quantitative"}, "y": {"field": "p", "type": "quantitative"}, "color": {"field": "grp", "type": "nominal", "legend": null}}},
     {"data": {"name": "info"}, "transform": [{"filter": "datum.panel == 'g'"}], "mark": {"type": "text", "align": "left", "baseline": "top", "fontSize": 10.5, "lineBreak": "\n", "lineHeight": 12.5, "color": "#1a1a1a"},
      "encoding": {"x": {"datum": 94}, "y": {"datum": 1.02}, "text": {"field": "stats"}}},
     {"data": {"name": "info"}, "transform": [{"filter": "datum.panel == 'g'"}], "mark": {"type": "text", "align": "center", "baseline": "middle", "fontSize": 11, "color": "#1a1a1a"},
      "encoding": {"x": {"datum": 103}, "y": {"datum": 1.13}, "text": {"field": "name"}}},
     {"data": {"name": "info"}, "transform": [{"filter": "datum.panel == 'g'"}], "mark": {"type": "text", "align": "right", "baseline": "middle", "fontSize": 15, "fontWeight": "bold", "color": "#111"},
      "encoding": {"x": {"datum": 211}, "y": {"datum": 1.148}, "text": {"field": "letter"}}}
    ]}
  ]
 }
]
}
